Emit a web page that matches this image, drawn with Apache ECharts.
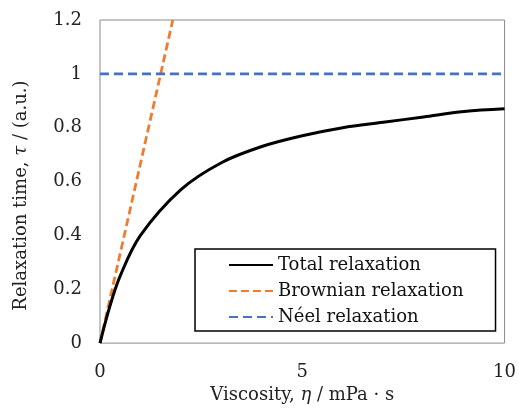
<!DOCTYPE html>
<html>
<head>
<meta charset="utf-8">
<script src="https://cdn.jsdelivr.net/npm/echarts@6/dist/echarts.min.js"></script>
<style>
  html, body { margin: 0; padding: 0; background: #fff; }
  #chart { width: 519px; height: 409px; }
</style>
</head>
<body>
<div id="chart"></div>
<script>
// data
var etaTotal = [0, 0.25, 0.5, 1, 2, 3, 4, 5, 6, 7, 8, 9, 10];
var tauTotal = [0, 0.14, 0.25, 0.40, 0.57, 0.67, 0.73, 0.77, 0.80, 0.82, 0.84, 0.86, 0.87];
var etaBrown = [0, 1.8];
var tauBrown = [0, 1.2];
var etaNeel = [0, 10];
var tauNeel = [1, 1];
var xTicks = [0, 5, 10];
var yTicks = [0, 0.2, 0.4, 0.6, 0.8, 1, 1.2];

function pairs(xs, ys) {
  var out = [];
  for (var i = 0; i < xs.length; i++) out.push([xs[i], ys[i]]);
  return out;
}

var font = 'DejaVu Serif';
var txt = '#222';
var chart = echarts.init(document.getElementById('chart'));
var option = {
  animation: false,
  textStyle: { fontFamily: font },
  grid: {
    left: 100, right: 12, top: 20, bottom: 62,
    show: true, borderColor: '#8a8a8a', borderWidth: 1
  },
  legend: {
    orient: 'vertical',
    left: 195, top: 249,
    padding: [7, 32, 5, 33],
    itemWidth: 44, itemHeight: 14, itemGap: 8,
    borderColor: '#000', borderWidth: 1.5,
    itemStyle: { opacity: 0 },
    textStyle: { fontFamily: font, fontSize: 18, lineHeight: 16, color: '#111' },
    data: ['Total relaxation', 'Brownian relaxation', 'Néel relaxation']
  },
  xAxis: {
    type: 'value', min: 0, max: 10, interval: 5,
    axisLine: { show: false }, axisTick: { show: false },
    splitLine: { show: false },
    axisLabel: { fontSize: 18, color: txt, margin: 20, fontFamily: font },
    name: '{a|Viscosity, }{i|η}{a| / mPa · s}',
    nameLocation: 'middle', nameGap: 42,
    nameTextStyle: {
      rich: {
        a: { fontSize: 18, color: txt, fontFamily: font },
        i: { fontSize: 18, color: txt, fontFamily: font, fontStyle: 'italic' }
      }
    }
  },
  yAxis: {
    type: 'value', min: 0, max: 1.2, interval: 0.2,
    axisLine: { show: false }, axisTick: { show: false },
    splitLine: { show: false },
    axisLabel: { fontSize: 18, color: txt, margin: 18, fontFamily: font },
    name: '{a|Relaxation time, }{i|τ}{a| / (a.u.)}',
    nameLocation: 'middle', nameGap: 70,
    nameTextStyle: {
      padding: [0, 28, 0, 0],
      rich: {
        a: { fontSize: 18, color: txt, fontFamily: font },
        i: { fontSize: 18, color: txt, fontFamily: font, fontStyle: 'italic' }
      }
    }
  },
  series: [
    {
      name: 'Total relaxation', type: 'line', smooth: 0.35,
      showSymbol: false, symbol: 'none', z: 3,
      data: pairs(etaTotal, tauTotal),
      lineStyle: { color: '#000', width: 3 },
      itemStyle: { color: '#000' }
    },
    {
      name: 'Brownian relaxation', type: 'line',
      showSymbol: false, symbol: 'none', z: 2,
      data: pairs(etaBrown, tauBrown),
      lineStyle: { color: '#ED7D31', width: 2.8, type: [8, 4] },
      itemStyle: { color: '#ED7D31' }
    },
    {
      name: 'Néel relaxation', type: 'line',
      showSymbol: false, symbol: 'none', z: 2,
      data: pairs(etaNeel, tauNeel),
      lineStyle: { color: '#4472C4', width: 2.8, type: [9, 5] },
      itemStyle: { color: '#4472C4' }
    }
  ]
};
chart.setOption(option);
</script>
</body>
</html>
